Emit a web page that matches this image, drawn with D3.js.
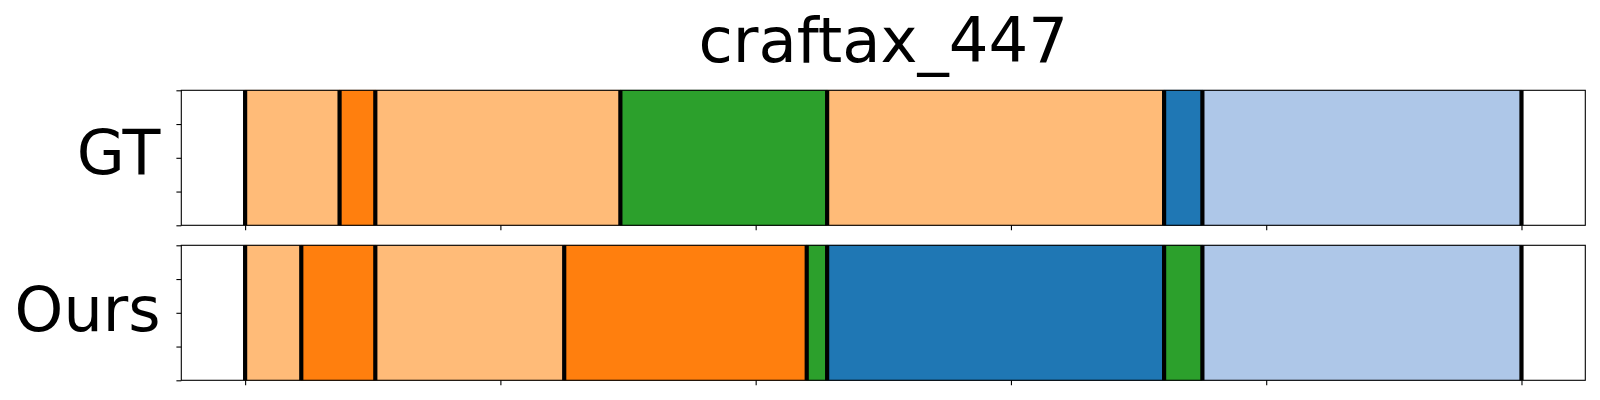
<!DOCTYPE html>
<html>
<head>
<meta charset="utf-8">
<script src="https://cdn.jsdelivr.net/npm/d3@7"></script>
<style>
  html, body { margin: 0; padding: 0; background: #fff; }
  svg { display: block; }
  text { font-family: "DejaVu Sans", sans-serif; fill: #000; }
</style>
</head>
<body>
<svg id="chart" width="1600" height="400"></svg>
<script>
// ---------------- data ----------------
const title = "craftax_447";
const rowNames = ["GT", "Ours"];
const totalLength = 500;
const xTickValues = [0, 100, 200, 300, 400, 500];
const yTickValues = [0, 0.25, 0.5, 0.75, 1];

// segment boundaries (time steps) and class ids per segment
const gtBoundaries   = [0, 37, 51, 147, 228, 360, 375, 500];
const gtClasses      = [3, 2, 3, 4, 3, 0, 1];
const oursBoundaries = [0, 22, 51, 125, 220, 228, 360, 375, 500];
const oursClasses    = [3, 2, 3, 2, 4, 0, 4, 1];

// tab20 palette (class id -> colour)
const palette = ["#1f77b4", "#aec7e8", "#ff7f0e", "#ffbb78", "#2ca02c",
                 "#98df8a", "#d62728", "#ff9896", "#9467bd", "#c5b0d5"];

// ---------------- layout ----------------
const svg = d3.select("#chart");
const left = 181.3, right = 1585.3;
const panels = [
  { name: rowNames[0], top: 90.3, bottom: 225.3, b: gtBoundaries, c: gtClasses, baseline: 174 },
  { name: rowNames[1], top: 245.3, bottom: 380.3, b: oursBoundaries, c: oursClasses, baseline: 331 }
];

const x = d3.scaleLinear()
  .domain([-0.05 * totalLength, 1.05 * totalLength])
  .range([left, right]);

panels.forEach(p => {
  const y = d3.scaleLinear().domain([0, 1]).range([p.bottom, p.top]);
  const g = svg.append("g");

  const segs = p.c.map((cls, i) => ({ x0: p.b[i], x1: p.b[i + 1], cls }));

  g.selectAll("rect.seg").data(segs).join("rect")
    .attr("class", "seg")
    .attr("x", d => x(d.x0))
    .attr("width", d => x(d.x1) - x(d.x0))
    .attr("y", y(1))
    .attr("height", y(0) - y(1))
    .attr("fill", d => palette[d.cls])
    .attr("stroke", d => d3.color(palette[d.cls]).darker(0.4))
    .attr("stroke-width", 0.8);

  // boundary lines
  g.selectAll("line.bd").data(p.b).join("line")
    .attr("class", "bd")
    .attr("x1", d => x(d)).attr("x2", d => x(d))
    .attr("y1", y(1)).attr("y2", y(0))
    .attr("stroke", "#000")
    .attr("stroke-width", 4.2);

  // axes frame
  g.append("rect")
    .attr("x", left).attr("y", p.top)
    .attr("width", right - left).attr("height", p.bottom - p.top)
    .attr("fill", "none").attr("stroke", "#000").attr("stroke-width", 1.1);

  // x ticks (no labels)
  const xa = g.append("g").attr("transform", `translate(0,${p.bottom})`)
    .call(d3.axisBottom(x).tickValues(xTickValues).tickFormat("").tickSize(4.9).tickSizeOuter(0));
  xa.select(".domain").remove();
  xa.selectAll(".tick line").attr("stroke-width", 1.1);

  // y ticks (no labels)
  const ya = g.append("g").attr("transform", `translate(${left},0)`)
    .call(d3.axisLeft(y).tickValues(yTickValues).tickFormat("").tickSize(4.9).tickSizeOuter(0));
  ya.select(".domain").remove();
  ya.selectAll(".tick line").attr("stroke-width", 1.1);

  // row label
  svg.append("text")
    .attr("x", 160.5).attr("y", p.baseline)
    .attr("text-anchor", "end")
    .attr("font-size", 62)
    .text(p.name);
});

svg.append("text")
  .attr("x", (left + right) / 2).attr("y", 61.7)
  .attr("text-anchor", "middle")
  .attr("font-size", 62.5)
  .text(title);
</script>
</body>
</html>
